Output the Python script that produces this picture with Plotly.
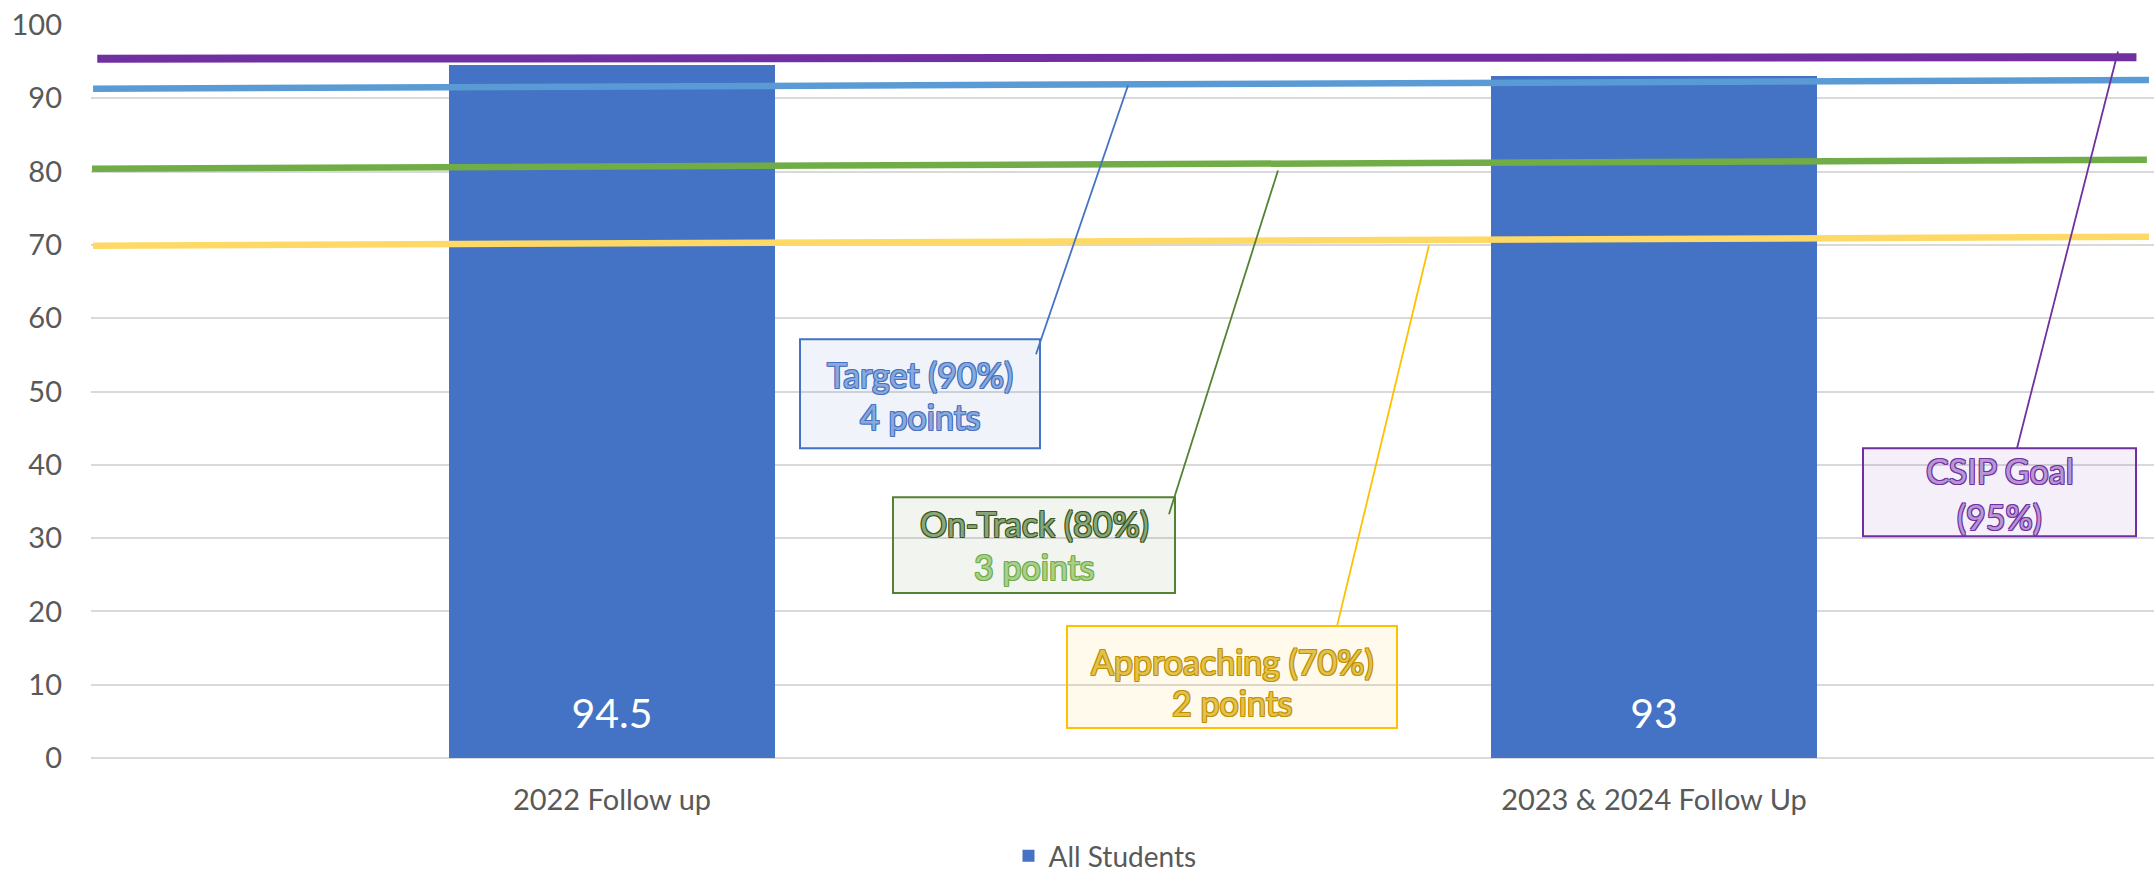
import plotly.graph_objects as go

# ---------------- data ----------------
categories = ["2022 Follow up", "2023 & 2024 Follow Up"]
all_students = [94.5, 93]

threshold_names = ["CSIP Goal (95%)", "Target (90%)", "On-Track (80%)", "Approaching (70%)"]
threshold_y_start = [95.4, 91.3, 80.4, 69.9]
threshold_y_end = [95.6, 92.5, 81.6, 71.1]
threshold_x_start = [-0.494, -0.498, -0.499, -0.498]
threshold_x_end = [1.463, 1.475, 1.473, 1.475]

y_ticks = [0, 10, 20, 30, 40, 50, 60, 70, 80, 90, 100]

# ---------------- style ----------------
W, H = 2154, 874
PL, PR, PT, PB = 91, 2154, 24.5, 758
FONT = "Lato"
GREY = "#595959"
BAR = "#4472C4"
line_colors = ["#7030A0", "#5B9BD5", "#70AD47", "#FFD966"]
line_widths = [8, 6.5, 6.5, 6.5]


def px_x(p):
    return (p - PL) / (PR - PL)


def px_y(p):
    return (PB - p) / (PB - PT)


fig = go.Figure()

x_pos = list(range(len(categories)))
fig.add_trace(go.Bar(
    x=x_pos, y=all_students, name="All Students",
    marker=dict(color=BAR, line=dict(width=0)), width=0.313,
    hoverinfo="skip",
))
# value labels at inside base of bars
fig.add_trace(go.Scatter(
    x=x_pos, y=[5.5] * len(x_pos), mode="text",
    text=[f"{v:g}" for v in all_students],
    textfont=dict(family=FONT, size=41, color="white"),
    showlegend=False, hoverinfo="skip",
))

for i, n in enumerate(threshold_names):
    fig.add_trace(go.Scatter(
        x=[threshold_x_start[i], threshold_x_end[i]],
        y=[threshold_y_start[i], threshold_y_end[i]],
        mode="lines", name=n,
        line=dict(color=line_colors[i], width=line_widths[i]),
        showlegend=False, hoverinfo="skip",
    ))

# ---------------- callout boxes ----------------
def outline(c):
    return f"-1px -1px 0 {c}, 1px -1px 0 {c}, -1px 1px 0 {c}, 1px 1px 0 {c}"


boxes = [
    # x0, x1, y0, y1, border, fill, [(text, ycenter, fill, outline)], leader (x0,y0,x1,y1)
    (800, 1040, 339, 448, "#4472C4", "rgba(68,114,196,0.08)",
     [("Target (90%)", 374, "#8AA8DA", "#4472C4"), ("4 points", 416, "#8AA8DA", "#4472C4")],
     (1036, 354, 1128, 85)),
    (893, 1175, 497, 593, "#548235", "rgba(84,130,53,0.08)",
     [("On-Track (80%)", 523, "#8AA57A", "#385723"), ("3 points", 566, "#A8CF8E", "#70AD47")],
     (1169, 514, 1278, 170)),
    (1067, 1397, 626, 728, "#FFC000", "rgba(255,192,0,0.08)",
     [("Approaching (70%)", 661, "#E3C14F", "#BF9000"), ("2 points", 702, "#E3C14F", "#BF9000")],
     (1337, 626, 1429, 245)),
    (1863, 2136, 448, 536, "#7030A0", "rgba(112,48,160,0.08)",
     [("CSIP Goal", 470, "#B796D4", "#7030A0"), ("(95%)", 516, "#B796D4", "#7030A0")],
     (2017, 448, 2118, 51)),
]

shapes = []
annotations = []
for x0, x1, y0, y1, bc, fc, texts, leader in boxes:
    shapes.append(dict(type="rect", xref="paper", yref="paper",
                       x0=px_x(x0), x1=px_x(x1), y0=px_y(y1), y1=px_y(y0),
                       line=dict(color=bc, width=2), fillcolor=fc, layer="above"))
    lx0, ly0, lx1, ly1 = leader
    shapes.append(dict(type="line", xref="paper", yref="paper",
                       x0=px_x(lx0), y0=px_y(ly0), x1=px_x(lx1), y1=px_y(ly1),
                       line=dict(color=bc, width=1.8), layer="above"))
    for t, yc, fill, oc in texts:
        annotations.append(dict(
            xref="paper", yref="paper", x=px_x((x0 + x1) / 2), y=px_y(yc),
            xanchor="center", yanchor="middle", showarrow=False, text=t,
            font=dict(family=FONT, size=34, color=fill, shadow=outline(oc)),
        ))

fig.update_layout(
    width=W, height=H,
    margin=dict(l=PL, r=W - PR, t=PT, b=H - PB, pad=0, autoexpand=False),
    paper_bgcolor="white", plot_bgcolor="white",
    font=dict(family=FONT, color=GREY),
    showlegend=True,
    legend=dict(orientation="h", x=px_x(1105), y=px_y(856), xanchor="center",
                yanchor="middle", font=dict(family=FONT, size=28, color=GREY),
                bgcolor="rgba(0,0,0,0)"),
    xaxis=dict(
        range=[-0.5, -0.5 + (PR - PL) / 1042], tickvals=x_pos, ticktext=categories,
        showgrid=False, zeroline=False, showline=False, ticks="",
        tickfont=dict(family=FONT, size=29, color=GREY), ticklabelstandoff=22,
        fixedrange=True, automargin=False,
    ),
    yaxis=dict(
        range=[0, 100], tickvals=y_ticks, showgrid=True, gridcolor="#D9D9D9",
        gridwidth=1.5, zeroline=True, zerolinecolor="#D9D9D9", zerolinewidth=1.5,
        showline=False, ticks="", tickfont=dict(family=FONT, size=29, color=GREY),
        ticklabelstandoff=28, fixedrange=True, automargin=False,
    ),
    shapes=shapes, annotations=annotations,
    bargap=0,
)

fig.write_html(
    "out.html",
    config={"displayModeBar": False},
    post_script="document.body.style.margin='0';document.body.style.overflow='hidden';",
)
